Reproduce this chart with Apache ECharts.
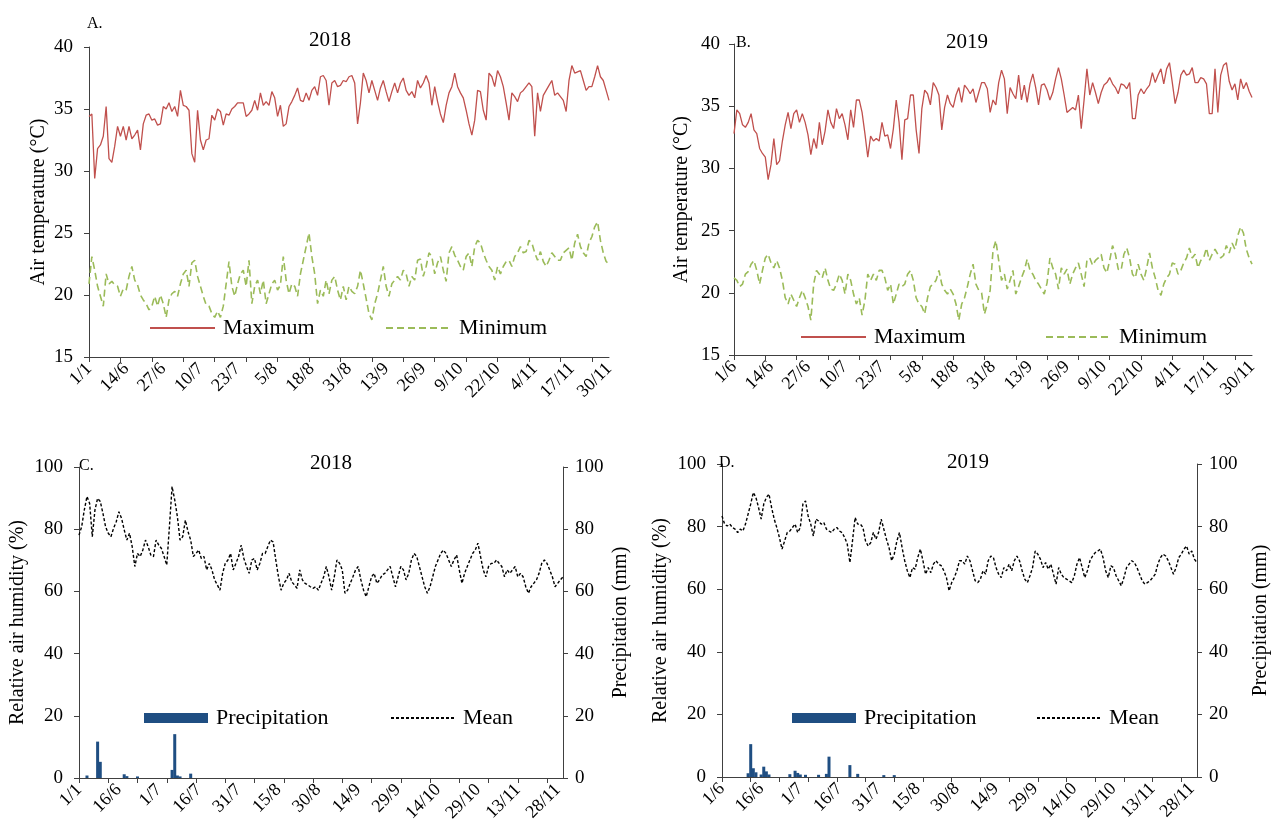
<!DOCTYPE html>
<html>
<head>
<meta charset="utf-8">
<script src="https://cdn.jsdelivr.net/npm/echarts@6/dist/echarts.min.js"></script>
<style>
html,body{margin:0;padding:0;background:#fff;}
#chart{width:1273px;height:834px;}
</style>
</head>
<body>
<div id="chart"></div>
<script>
// ---------- DATA ----------
const tickLabelsA = ['1/1','14/6','27/6','10/7','23/7','5/8','18/8','31/8','13/9','26/9','9/10','22/10','4/11','17/11','30/11'];
const tickLabelsB = ['1/6','14/6','27/6','10/7','23/7','5/8','18/8','31/8','13/9','26/9','9/10','22/10','4/11','17/11','30/11'];
const tickLabelsC = ['1/1','16/6','1/7','16/7','31/7','15/8','30/8','14/9','29/9','14/10','29/10','13/11','28/11'];
const tickLabelsD = ['1/6','16/6','1/7','16/7','31/7','15/8','30/8','14/9','29/9','14/10','29/10','13/11','28/11'];

const maxTemp2018 = [
34.4,34.6,29.4,31.8,32.1,32.8,35.2,31.0,30.7,32.0,
33.6,32.8,33.6,32.5,33.6,32.6,32.9,33.3,31.7,33.8,
34.5,34.6,34.1,34.2,33.7,33.8,35.2,35.0,35.5,34.8,
35.2,34.4,36.5,35.3,35.2,34.9,31.4,30.7,34.9,32.5,
31.7,32.5,32.6,34.5,34.1,35.0,34.8,33.7,34.6,34.5,
35.0,35.2,35.5,35.5,35.5,34.4,34.6,34.9,35.7,34.9,
36.3,35.3,35.6,35.3,36.4,35.9,34.4,35.3,33.6,33.8,
35.2,35.6,36.1,36.7,35.7,35.6,36.3,35.7,36.5,36.8,
36.1,37.6,37.7,37.3,35.3,37.1,37.3,36.8,36.9,
37.3,37.2,37.6,37.7,37.1,33.8,35.5,37.9,37.3,36.3,
37.3,36.5,35.7,36.7,37.3,36.4,35.6,36.4,37.1,36.3,
37.1,37.5,36.5,36.1,36.4,35.9,37.3,36.7,37.1,37.7,
37.1,35.3,36.8,35.6,34.6,33.9,35.3,36.3,36.8,37.9,
36.8,36.3,35.9,34.9,33.8,32.9,34.1,36.5,36.4,34.9,
34.1,37.9,37.6,36.8,38.1,37.6,36.8,35.5,34.1,36.3,
36.0,35.6,36.3,36.5,36.8,37.1,36.8,32.8,36.3,34.8,
36.1,36.5,36.9,37.3,36.1,36.3,36.0,35.7,34.8,37.3,
38.5,37.9,38.0,38.1,37.3,36.5,36.8,36.8,37.6,38.5,
37.6,37.3,36.5,35.7];

const minTemp2018 = [
20.9,23.1,22.0,20.7,19.9,19.1,21.7,20.9,21.1,20.8,
20.7,19.9,20.5,20.4,21.5,22.3,21.2,20.8,20.0,19.6,
19.3,18.8,19.1,19.9,19.1,20.0,19.3,18.2,19.6,20.1,
20.3,19.9,20.9,21.7,22.0,20.7,22.6,22.8,21.5,20.7,
19.9,19.2,19.1,18.5,18.2,18.7,18.2,19.1,20.9,22.7,
20.7,19.9,20.9,21.7,22.0,20.7,22.8,19.3,20.7,21.2,
20.1,21.2,19.3,20.1,20.9,21.2,20.4,20.8,23.1,21.2,
20.1,20.9,20.7,19.9,21.7,22.8,23.9,25.0,23.1,21.7,
19.3,20.4,19.9,21.2,20.1,21.2,21.5,20.4,19.6,20.7,
19.6,20.7,20.3,20.1,20.7,22.0,20.9,19.7,18.5,18.0,
19.3,20.1,21.2,22.3,20.7,19.9,20.9,21.2,21.5,21.2,
22.0,21.7,20.7,21.5,21.2,22.8,22.9,21.5,22.3,23.4,
23.1,21.7,22.6,23.1,22.0,21.1,23.4,23.9,23.2,22.8,
22.3,22.0,23.1,23.4,22.3,23.9,24.4,24.2,23.4,22.8,
22.3,22.0,21.2,22.3,21.7,22.3,22.7,22.8,22.3,23.1,
23.4,23.9,23.4,23.5,24.4,24.2,23.4,22.8,23.5,22.7,
22.3,22.8,23.4,23.1,22.8,22.8,23.4,23.6,23.8,22.8,
24.2,24.9,23.9,23.4,23.1,24.2,24.7,25.5,25.9,24.4,
23.4,22.7,22.5];

const maxTemp2019 = [
32.8,34.7,34.4,33.5,33.3,33.7,34.4,33.1,32.8,31.6,
31.2,30.9,29.1,30.3,32.4,30.3,30.6,32.2,33.5,34.5,
33.2,34.4,34.7,33.7,34.4,33.7,32.7,31.1,32.4,31.6,
33.7,31.9,33.0,34.7,33.7,33.2,34.8,34.0,34.4,33.5,
32.3,34.7,33.3,35.5,35.5,34.5,32.8,30.9,32.6,32.2,
32.4,32.2,33.7,32.6,32.7,31.6,33.2,35.5,33.7,30.7,
33.9,34.0,35.9,35.9,33.1,31.2,34.8,36.3,36.0,35.1,
36.9,36.5,35.9,33.1,34.9,35.9,35.2,34.9,35.9,36.5,
35.3,36.7,36.4,36.0,36.4,35.3,36.1,36.9,
36.9,36.4,34.5,35.5,35.1,36.9,37.9,37.2,34.4,36.5,
36.0,35.6,37.5,35.5,36.7,35.3,36.8,37.6,36.5,35.1,
36.7,36.8,36.3,35.5,36.1,37.2,38.1,37.2,35.9,34.5,
34.7,34.9,34.7,35.9,33.2,35.5,38.0,35.9,36.9,36.1,
35.2,36.1,36.7,36.9,37.3,36.8,36.5,36.0,36.8,36.7,
36.4,36.9,34.0,34.0,35.9,36.4,36.0,36.4,36.7,37.7,
36.9,37.5,38.0,36.8,38.0,38.5,36.9,35.2,36.1,37.5,
37.9,37.5,37.6,38.1,36.9,36.9,37.3,37.2,36.8,34.4,
34.4,38.0,34.5,37.5,38.3,38.5,
37.0,36.3,36.8,35.5,37.2,36.4,36.9,36.2,35.7];

const minTemp2019 = [
21.2,21.0,20.5,20.7,21.5,21.7,22.3,22.6,21.8,20.7,
21.8,22.8,23.1,22.4,22.0,22.6,22.0,21.0,19.6,19.1,
19.9,19.4,18.9,19.6,20.2,19.6,18.9,17.8,20.7,21.8,
21.5,21.2,22.0,21.0,20.3,20.2,20.7,21.5,21.0,19.9,
21.5,21.0,19.9,19.1,19.6,18.2,19.4,21.5,21.0,21.5,
21.0,21.8,21.8,21.2,20.2,20.7,19.1,19.9,20.7,20.5,
20.7,21.5,21.8,21.0,19.6,19.1,18.9,18.3,19.6,20.5,
20.7,21.0,21.8,20.7,20.2,19.9,20.3,19.9,19.1,17.8,
19.1,19.6,20.5,21.5,22.3,20.7,20.2,20.0,
18.3,19.1,20.2,23.4,24.2,22.6,21.0,21.5,20.3,21.0,
21.8,19.9,20.5,21.2,21.8,22.7,21.8,21.5,21.0,20.7,
20.3,19.9,20.8,22.8,22.0,21.5,20.3,22.0,21.5,21.9,
20.7,21.5,22.0,22.4,21.5,20.5,22.6,22.8,22.2,22.6,
22.8,23.1,22.0,21.6,22.6,23.8,23.1,21.9,21.8,23.1,
23.6,22.8,21.5,21.2,22.3,21.5,21.0,22.0,23.2,22.0,
21.2,20.2,19.8,20.7,21.2,21.5,22.4,22.3,21.5,21.8,
22.4,22.8,23.6,22.8,23.1,22.0,22.6,22.8,23.6,22.6,
23.1,23.5,23.1,22.8,
23.0,23.8,23.2,24.0,23.5,24.6,25.3,24.8,23.5,22.8,22.3];

const humidity2018 = [
78.1,80.8,86.2,90.5,88.3,77.6,86.2,89.9,88.9,
85.1,80.8,78.7,77.6,80.3,82.4,85.6,83.5,
79.8,76.5,78.7,74.4,68.0,72.2,71.2,73.3,76.5,74.4,
71.7,71.2,76.5,74.9,73.8,71.2,68.5,80.8,93.7,
89.4,84.0,76.5,77.6,82.9,79.2,76.5,71.2,72.2,
73.3,70.6,71.2,66.9,69.0,66.9,63.7,62.1,60.4,
65.8,69.0,70.1,72.2,66.9,69.0,71.2,74.9,70.6,
68.0,65.8,70.1,70.6,66.9,69.0,72.2,72.2,74.4,
76.5,75.9,70.1,64.7,60.4,62.6,63.7,65.8,63.1,62.1,
61.0,66.9,63.7,62.6,62.1,61.5,61.0,
61.5,60.4,62.6,64.7,68.0,64.7,60.4,64.7,70.1,69.0,66.9,
59.4,60.4,62.6,64.7,66.9,68.0,63.7,60.4,58.3,61.5,64.7,
65.8,62.6,63.7,65.3,65.8,66.9,68.0,64.7,61.5,64.7,
68.0,66.9,63.7,65.8,70.1,72.2,71.2,68.0,64.7,61.5,
59.4,61.5,64.7,68.0,70.1,72.2,73.3,72.2,70.1,68.0,70.1,
71.7,66.9,62.6,65.8,68.0,70.1,72.2,73.3,75.5,71.2,
66.9,64.7,68.0,69.0,69.0,70.1,69.0,68.0,64.7,66.9,65.8,
66.9,68.0,64.7,65.8,64.7,61.5,59.4,61.5,62.6,63.7,
65.8,69.0,70.1,69.0,66.9,64.7,61.5,62.6,63.7,64.7];

const humidity2019 = [
83.4,80.8,80.2,80.8,79.7,79.2,78.1,79.2,78.6,80.8,
84.0,87.2,90.9,89.3,86.1,82.4,87.2,89.3,90.4,86.1,
82.4,79.7,76.5,72.8,75.4,78.1,78.6,79.7,80.8,78.1,
79.7,87.2,88.2,83.4,80.8,77.0,82.4,81.8,80.8,81.3,
79.2,78.6,78.1,79.2,79.7,78.6,78.1,76.5,74.4,
68.5,75.4,82.9,80.8,80.8,79.7,75.4,73.8,74.9,78.1,
76.0,78.1,82.4,79.2,76.0,73.3,69.1,71.2,75.4,78.1,
73.3,69.1,65.9,63.7,66.9,66.4,70.1,72.8,69.1,64.8,
66.9,65.3,68.0,69.1,68.0,67.5,65.9,63.7,59.5,62.1,63.7,65.9,69.1,
69.1,68.0,70.6,69.1,65.9,62.7,62.1,
63.2,65.9,64.8,69.1,70.6,70.1,66.9,64.8,63.7,
66.9,65.9,68.0,65.9,69.1,70.6,69.1,65.9,63.2,62.1,
64.3,66.9,72.2,71.2,69.6,66.9,68.5,66.4,68.0,64.8,
61.6,66.9,64.8,63.7,63.2,62.7,62.1,64.3,68.0,70.1,
66.9,63.7,65.9,69.1,70.6,71.7,72.2,72.8,70.1,65.9,
63.7,67.5,66.9,64.3,62.7,61.1,63.7,66.9,68.0,69.1,
68.5,66.9,64.8,62.7,61.6,62.1,62.7,63.7,64.8,
68.0,70.1,71.2,70.6,69.1,66.9,64.8,66.9,70.1,71.2,
72.8,73.8,71.2,72.2,69.6,68.5];

const rainDates2018 = ['4/6','8/6','9/6','18/6','19/6','23/6','6/7','7/7','8/7','9/7','13/7'];
const rain2018 = [0.8,11.7,5.2,1.2,0.6,0.5,2.6,14.1,0.8,0.5,1.4];
const rainDates2019 = ['11/6','12/6','13/6','14/6','16/6','17/6','18/6','19/6','27/6','29/6','30/6','1/7','3/7','8/7','11/7','12/7','20/7','23/7','2/8','6/8'];
const rain2019 = [1.2,10.5,2.8,1.5,0.8,3.3,1.8,0.8,0.9,2.0,1.3,0.8,0.7,0.7,1.0,6.5,3.8,1.0,0.6,0.6];

// ---------- CHART ----------
const dates = [];
for (let i = 0; i < maxTemp2018.length; i++) {
  const d = new Date(2018, 5, 1 + i);
  dates.push(d.getDate() + '/' + (d.getMonth() + 1));
}

const FONT = 'Liberation Serif';
const AX = '#404040';
const RED = '#C0504D', GREEN = '#9BBB59', BLUE = '#1F4E82';

function xAxis(grid, labels, step) {
  return {
    type: 'category', gridIndex: grid, data: dates, boundaryGap: false,
    axisLine: {lineStyle: {color: AX, width: 1}},
    axisTick: {interval: 10, length: 5, lineStyle: {color: AX}},
    axisLabel: {interval: step - 1, rotate: 45, margin: 9, color: '#000', fontFamily: FONT, fontSize: 18,
      formatter: (v, i) => labels[Math.round(i / step)]},
    splitLine: {show: false}
  };
}
function yAxis(grid, min, max, interval, name, nameGap, pos, margin) {
  return {
    type: 'value', gridIndex: grid, min: min, max: max, interval: interval, position: pos || 'left',
    name: name, nameLocation: 'middle', nameGap: nameGap,
    nameTextStyle: {fontFamily: FONT, fontSize: 20, color: '#000'},
    axisLine: {show: true, lineStyle: {color: AX, width: 1}},
    axisTick: {show: true, length: 5, lineStyle: {color: AX}},
    axisLabel: {color: '#000', fontFamily: FONT, fontSize: 19, margin: margin},
    splitLine: {show: false}
  };
}
function lineSeries(name, x, y, data, color, width, type) {
  return {type: 'line', name: name, xAxisIndex: x, yAxisIndex: y, data: data, symbol: 'none',
    lineStyle: {color: color, width: width, type: type}, itemStyle: {color: color}, silent: true};
}
function legend(name, left, top, isBar, w, h) {
  const l = {data: [name], left: left, top: top, padding: 0, itemWidth: w, itemHeight: h, selectedMode: false,
    itemGap: 0, textStyle: {fontFamily: FONT, fontSize: 22, color: '#000', padding: [0, 0, 0, 3]}};
  if (isBar) l.icon = 'rect';
  else l.itemStyle = {opacity: 0};
  return l;
}
const tStyle = (s) => ({fontFamily: FONT, fontSize: s, fontWeight: 'normal', color: '#000'});

const option = {
  animation: false,
  backgroundColor: '#fff',
  title: [
    {text: 'A.', left: 87, top: 16, padding: 0, textStyle: tStyle(16)},
    {text: '2018', left: 309, top: 30, padding: 0, textStyle: tStyle(21)},
    {text: 'B.', left: 736, top: 35, padding: 0, textStyle: tStyle(16)},
    {text: '2019', left: 946, top: 32, padding: 0, textStyle: tStyle(21)},
    {text: 'C.', left: 79, top: 458, padding: 0, textStyle: tStyle(16)},
    {text: '2018', left: 310, top: 453, padding: 0, textStyle: tStyle(21)},
    {text: 'D.', left: 719, top: 455, padding: 0, textStyle: tStyle(16)},
    {text: '2019', left: 947, top: 452, padding: 0, textStyle: tStyle(21)}
  ],
  legend: [
    legend('Maximum', 149, 317, false, 65, 14),
    legend('Minimum', 385, 317, false, 65, 14),
    legend('Maximum', 800, 326, false, 65, 14),
    legend('Minimum', 1045, 326, false, 65, 14),
    legend('Precipitation', 144, 707, true, 64, 10),
    legend('Mean', 390, 707, false, 64, 14),
    legend('Precipitation', 792, 707, true, 64, 10),
    legend('Mean', 1036, 707, false, 64, 14)
  ],
  grid: [
    {left: 89, top: 47, width: 520, height: 310},
    {left: 734, top: 44, width: 518, height: 311},
    {left: 79, top: 467, width: 484, height: 311},
    {left: 722, top: 464, width: 475, height: 313}
  ],
  xAxis: [
    xAxis(0, tickLabelsA, 13),
    xAxis(1, tickLabelsB, 13),
    xAxis(2, tickLabelsC, 15),
    xAxis(3, tickLabelsD, 15)
  ],
  yAxis: [
    yAxis(0, 15, 40, 5, 'Air temperature (°C)', 40, 'left', 16),
    yAxis(1, 15, 40, 5, 'Air temperature (°C)', 42, 'left', 14),
    yAxis(2, 0, 100, 20, 'Relative air humidity (%)', 51, 'left', 16),
    yAxis(2, 0, 100, 20, 'Precipitation (mm)', 48, 'right', 12),
    yAxis(3, 0, 100, 20, 'Relative air humidity (%)', 51, 'left', 16),
    yAxis(3, 0, 100, 20, 'Precipitation (mm)', 54, 'right', 12)
  ],
  series: [
    lineSeries('Maximum', 0, 0, maxTemp2018, RED, 1.3, 'solid'),
    lineSeries('Minimum', 0, 0, minTemp2018, GREEN, 1.6, [7, 4]),
    lineSeries('Maximum', 1, 1, maxTemp2019, RED, 1.3, 'solid'),
    lineSeries('Minimum', 1, 1, minTemp2019, GREEN, 1.6, [7, 4]),
    {type: 'bar', name: 'Precipitation', xAxisIndex: 2, yAxisIndex: 3, barWidth: 3, itemStyle: {color: BLUE},
      data: rainDates2018.map((d, i) => [d, rain2018[i]]), silent: true},
    lineSeries('Mean', 2, 2, humidity2018, '#000', 1.4, [3, 2]),
    {type: 'bar', name: 'Precipitation', xAxisIndex: 3, yAxisIndex: 5, barWidth: 3, itemStyle: {color: BLUE},
      data: rainDates2019.map((d, i) => [d, rain2019[i]]), silent: true},
    lineSeries('Mean', 3, 4, humidity2019, '#000', 1.4, [3, 2])
  ]
};
const chart = echarts.init(document.getElementById('chart'), null, {renderer: 'canvas'});
chart.setOption(option);
</script>
</body>
</html>
